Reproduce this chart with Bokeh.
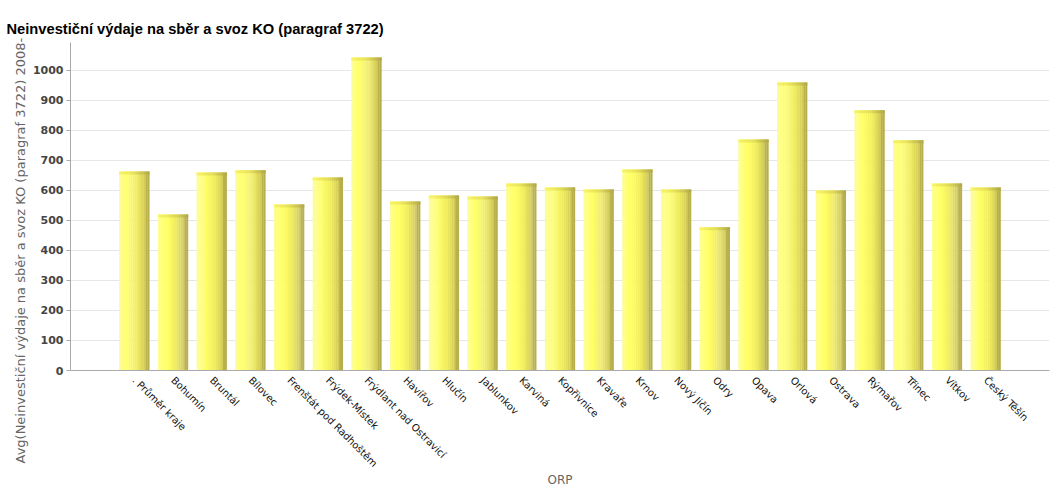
import math
from bokeh.plotting import figure
from bokeh.models import FactorRange, Range1d, FixedTicker, Title, ColumnDataSource
from bokeh.transform import dodge
from bokeh.embed import file_html
from bokeh.resources import INLINE

categories = [". Průměr kraje", "Bohumín", "Bruntál", "Bílovec", "Frenštát pod Radhoštěm",
              "Frýdek-Místek", "Frýdlant nad Ostravicí", "Havířov", "Hlučín", "Jablunkov",
              "Karviná", "Kopřivnice", "Kravaře", "Krnov", "Nový Jičín", "Odry", "Opava",
              "Orlová", "Ostrava", "Rýmařov", "Třinec", "Vítkov", "Český Těšín"]
values = [663, 520, 660, 667, 553, 643, 1043, 563, 583, 580, 623, 610, 603, 670, 603,
          477, 770, 960, 600, 867, 767, 623, 610]
y_ticks = [0, 100, 200, 300, 400, 500, 600, 700, 800, 900, 1000]

title_text = "Neinvestiční výdaje na sběr a svoz KO (paragraf 3722)"
y_label_text = "Avg(Neinvestiční výdaje na sběr a svoz KO (paragraf 3722) 2008-"
x_label_text = "ORP"

CAP = 10  # cap thickness in value units (visual style)

src = ColumnDataSource(dict(cat=categories, val=values,
                            cap_bottom=[v - CAP for v in values]))

p = figure(x_range=FactorRange(*categories, range_padding=0.1),
           y_range=Range1d(0, 1093),
           width=1056, height=496, output_backend="svg", toolbar_location=None,
           min_border_left=70, min_border_right=7, min_border_top=42, min_border_bottom=126)
p.outline_line_color = None
p.background_fill_color = "white"
p.border_fill_color = "white"


def hexc(c):
    return "#%02x%02x%02x" % tuple(int(round(x)) for x in c)


def interp(stops, t):
    for (t0, c0), (t1, c1) in zip(stops, stops[1:]):
        if t0 <= t <= t1:
            f = (t - t0) / (t1 - t0) if t1 > t0 else 0
            return hexc([a + (b - a) * f for a, b in zip(c0, c1)])
    return hexc(stops[-1][1])


body_stops = [(0.0, (250, 250, 170)), (0.08, (255, 255, 130)), (0.3, (255, 255, 102)),
              (0.6, (240, 236, 96)), (0.86, (210, 202, 88)), (0.88, (186, 178, 76)),
              (1.0, (182, 174, 74))]
cap_stops = [(0.0, (248, 244, 100)), (0.5, (228, 222, 88)), (1.0, (176, 168, 72))]

BW = 0.78
N = 16
w = BW / N
for i in range(N):
    t = (i + 0.5) / N
    off = -BW / 2 + w * (i + 0.5)
    p.vbar(x=dodge("cat", off, range=p.x_range), top="val", bottom=0, width=w * 1.08,
           source=src, fill_color=interp(body_stops, t), line_color=None)
    p.vbar(x=dodge("cat", off, range=p.x_range), top="val", bottom="cap_bottom", width=w * 1.08,
           source=src, fill_color=interp(cap_stops, t), line_color=None)

# axes
p.yaxis.ticker = FixedTicker(ticks=y_ticks)
p.yaxis.minor_tick_line_color = None
p.yaxis.major_tick_in = 0
p.yaxis.major_tick_out = 4
p.yaxis.major_tick_line_color = "#aaaaaa"
p.yaxis.axis_line_color = "#aaaaaa"
p.yaxis.major_label_text_font = "DejaVu Sans"
p.yaxis.major_label_text_font_size = "11px"
p.yaxis.major_label_text_font_style = "bold"
p.yaxis.major_label_text_color = "#444444"
p.yaxis.major_label_standoff = 3

p.xaxis.major_tick_line_color = None
p.xaxis.minor_tick_line_color = None
p.xaxis.axis_line_color = "#aaaaaa"
p.xaxis.major_label_orientation = -math.pi / 4
p.xaxis.major_label_text_font = "DejaVu Sans"
p.xaxis.major_label_text_font_size = "10px"
p.xaxis.major_label_text_color = "#111111"
p.xaxis.major_label_standoff = 2
p.xaxis.group_text_font_size = "0px"
p.xaxis.axis_label = x_label_text
p.xaxis.axis_label_text_font = "DejaVu Sans"
p.xaxis.axis_label_text_font_size = "12px"
p.xaxis.axis_label_text_font_style = "normal"
p.xaxis.axis_label_text_color = "#666666"
p.xaxis.axis_label_standoff = -3

p.xgrid.grid_line_color = None
p.ygrid.grid_line_color = "#e6e6e6"
p.ygrid.grid_line_width = 1

p.title.text = title_text
p.title.align = "left"
p.title.offset = -64
p.title.text_font = "Liberation Sans"
p.title.text_font_style = "bold"
p.title.text_font_size = "14.7px"
p.title.text_color = "#000000"
p.title.standoff = 11

p.add_layout(Title(text=y_label_text, align="left", offset=-93, standoff=3,
                   text_font="DejaVu Sans", text_font_size="13px", text_font_style="normal",
                   text_color="#666666"), "left")

open("out.html", "w").write(file_html(p, INLINE))
